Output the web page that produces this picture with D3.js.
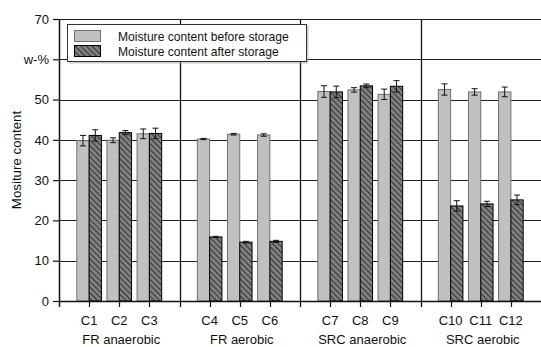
<!DOCTYPE html>
<html>
<head>
<meta charset="utf-8">
<script src="https://cdn.jsdelivr.net/npm/d3@7/dist/d3.min.js"></script>
<style>
  html, body { margin: 0; padding: 0; background: #fff; }
  svg { display: block; font-family: "Liberation Sans", Arial, sans-serif; }
</style>
</head>
<body>
<svg id="chart" width="541" height="347"></svg>
<script>
// Storage trial: moisture content (w-%) per sample, before and after storage
const categories = ["C1", "C2", "C3", "C4", "C5", "C6", "C7", "C8", "C9", "C10", "C11", "C12"];
const groups = ["FR anaerobic", "FR aerobic", "SRC anaerobic", "SRC aerobic"];
const before    = [39.8, 39.9, 41.5, 40.2, 41.4, 41.2, 52.0, 52.4, 51.3, 52.5, 51.9, 51.9];
const beforeErr = [1.3, 0.6, 1.2, 0.15, 0.2, 0.3, 1.45, 0.55, 1.3, 1.4, 0.8, 1.2];
const after     = [41.1, 41.8, 41.6, 15.9, 14.6, 14.8, 51.9, 53.4, 53.3, 23.6, 24.1, 25.1];
const afterErr  = [1.4, 0.5, 1.3, 0.15, 0.2, 0.25, 1.45, 0.45, 1.4, 1.3, 0.65, 1.2];
const yTicks = [0, 10, 20, 30, 40, 50, 60, 70];
const yTickLabels = ["0", "10", "20", "30", "40", "50", "w-%", "70"];
const seriesNames = ["Moisture content before storage", "Moisture content after storage"];

const svg = d3.select("#chart");
const margin = { left: 59, right: 0, top: 19, bottom: 46 };
const W = 541, H = 347;

// Slots along the x axis: padding, three samples per group, a separator between groups
const slots = ["start"];
groups.forEach((g, gi) => {
  categories.slice(gi * 3, gi * 3 + 3).forEach(c => slots.push(c));
  slots.push(gi < groups.length - 1 ? "sep" + gi : "end");
});
const x = d3.scalePoint().domain(slots).range([margin.left, W - margin.right]);
const y = d3.scaleLinear().domain([0, 70]).range([H - margin.bottom, margin.top]);
const barW = 12.3;

const defs = svg.append("defs");
defs.append("pattern")
  .attr("id", "hatch")
  .attr("patternUnits", "userSpaceOnUse")
  .attr("width", 4).attr("height", 4)
  .attr("patternTransform", "rotate(-45)")
  .call(p => {
    p.append("rect").attr("width", 4).attr("height", 4).attr("fill", "#808080");
    p.append("line").attr("x1", 0).attr("y1", 0).attr("x2", 0).attr("y2", 4)
      .attr("stroke", "#000").attr("stroke-width", 1.2);
  });

// Horizontal gridlines
svg.append("g").selectAll("line")
  .data(yTicks.filter(v => v > 0))
  .join("line")
  .attr("x1", margin.left).attr("x2", W)
  .attr("y1", d => Math.round(y(d)) + 0.5).attr("y2", d => Math.round(y(d)) + 0.5)
  .attr("stroke", "#222").attr("stroke-width", 1);

// Group separators, running through the axis
const seps = slots.filter(s => s.startsWith("sep"));
svg.append("g").selectAll("line")
  .data(seps)
  .join("line")
  .attr("x1", d => Math.round(x(d)) + 0.5).attr("x2", d => Math.round(x(d)) + 0.5)
  .attr("y1", y(70)).attr("y2", y(0) + 6)
  .attr("stroke", "#111").attr("stroke-width", 1.3);

// Bars
const rows = categories.map((c, i) => ({ c, b: before[i], be: beforeErr[i], a: after[i], ae: afterErr[i] }));
const bars = svg.append("g");
bars.selectAll("rect.before").data(rows).join("rect")
  .attr("class", "before")
  .attr("x", d => x(d.c) - barW).attr("width", barW)
  .attr("y", d => y(d.b)).attr("height", d => y(0) - y(d.b))
  .attr("fill", "#c0c0c0").attr("stroke", "#707070").attr("stroke-width", 1);
bars.selectAll("rect.after").data(rows).join("rect")
  .attr("class", "after")
  .attr("x", d => x(d.c)).attr("width", barW)
  .attr("y", d => y(d.a)).attr("height", d => y(0) - y(d.a))
  .attr("fill", "url(#hatch)").attr("stroke", "#000").attr("stroke-width", 1);

// Error bars
function errorBars(sel, cx, val, err) {
  const g = sel.append("g").attr("stroke", "#111").attr("stroke-width", 1).attr("fill", "none");
  g.selectAll("path").data(rows).join("path")
    .attr("d", d => {
      const xc = cx(d), hi = y(val(d) + err(d)), lo = y(val(d) - err(d));
      return `M${xc},${hi}V${lo}M${xc - 3},${hi}H${xc + 3}M${xc - 3},${lo}H${xc + 3}`;
    });
}
errorBars(svg, d => x(d.c) - barW / 2, d => d.b, d => d.be);
errorBars(svg, d => x(d.c) + barW / 2, d => d.a, d => d.ae);

// Baseline with ticks under each sample
svg.append("line")
  .attr("x1", margin.left).attr("x2", W)
  .attr("y1", y(0) + 0.5).attr("y2", y(0) + 0.5)
  .attr("stroke", "#111").attr("stroke-width", 1.3);
svg.append("g").selectAll("line").data(categories).join("line")
  .attr("x1", d => Math.round(x(d)) + 0.5).attr("x2", d => Math.round(x(d)) + 0.5)
  .attr("y1", y(0)).attr("y2", y(0) + 6)
  .attr("stroke", "#111").attr("stroke-width", 1.2);

// Y axis
const yAxis = svg.append("g")
  .attr("transform", `translate(${margin.left},0)`)
  .call(d3.axisLeft(y).tickValues(yTicks).tickSize(6).tickPadding(4)
    .tickFormat((d, i) => yTickLabels[i]));
yAxis.select(".domain").remove();
yAxis.selectAll(".tick line").attr("stroke", "#111").attr("stroke-width", 1.2);
yAxis.selectAll(".tick text").attr("font-size", 13).attr("fill", "#111")
  .attr("font-family", "Liberation Sans, Arial, sans-serif");
svg.append("line")
  .attr("x1", margin.left + 0.5).attr("x2", margin.left + 0.5)
  .attr("y1", y(70)).attr("y2", y(0) + 6)
  .attr("stroke", "#111").attr("stroke-width", 1.5);

// Category and group labels
svg.append("g").selectAll("text").data(categories).join("text")
  .attr("x", d => x(d)).attr("y", 325)
  .attr("text-anchor", "middle").attr("font-size", 13).attr("fill", "#111")
  .text(d => d);
svg.append("g").selectAll("text").data(groups).join("text")
  .attr("x", (d, i) => x(categories[i * 3 + 1]) + 2).attr("y", 344)
  .attr("text-anchor", "middle").attr("font-size", 13).attr("fill", "#111")
  .text(d => d);

// Y axis title
svg.append("text")
  .attr("transform", `translate(21,${(y(0) + y(70)) / 2}) rotate(-90)`)
  .attr("text-anchor", "middle").attr("font-size", 13.3).attr("fill", "#111")
  .text("Mositure content");

// Legend
const lg = svg.append("g");
lg.append("rect").attr("x", 68.5).attr("y", 25.5).attr("width", 240).attr("height", 38)
  .attr("fill", "#999").attr("opacity", 0.5);
lg.append("rect").attr("x", 67.5).attr("y", 24.5).attr("width", 239).attr("height", 37)
  .attr("fill", "#fff").attr("stroke", "#333").attr("stroke-width", 1);
seriesNames.forEach((name, i) => {
  lg.append("rect")
    .attr("x", 74.5).attr("y", 30.5 + i * 15).attr("width", 26).attr("height", 11)
    .attr("fill", i === 0 ? "#c0c0c0" : "url(#hatch)")
    .attr("stroke", i === 0 ? "#707070" : "#000");
  lg.append("text")
    .attr("x", 118).attr("y", 40.5 + i * 15)
    .attr("font-size", 12.1).attr("fill", "#111")
    .text(name);
});
</script>
</body>
</html>
